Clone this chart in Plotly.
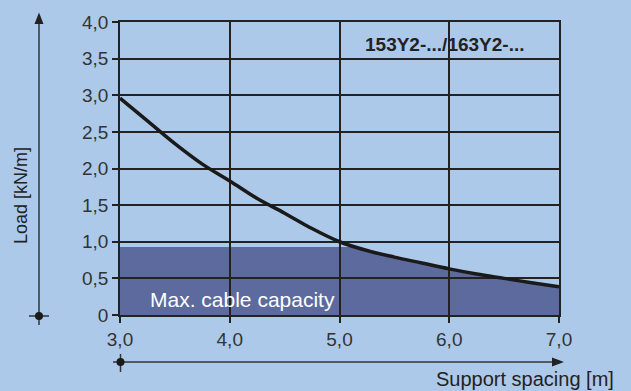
import plotly.graph_objects as go

# daten
spacing = [3.0, 3.25, 3.5, 3.75, 4.0, 4.25, 4.5, 4.75, 5.0, 5.25, 5.5, 5.75, 6.0, 6.25, 6.5, 6.75, 7.0]
load = [2.96, 2.65, 2.34, 2.06, 1.83, 1.59, 1.39, 1.18, 1.0, 0.88, 0.79, 0.71, 0.63, 0.56, 0.5, 0.44, 0.385]
cable_capacity = 0.93

x_ticks = [3, 4, 5, 6, 7]
x_labels = ["3,0", "4,0", "5,0", "6,0", "7,0"]
y_ticks = [0, 0.5, 1, 1.5, 2, 2.5, 3, 3.5, 4]
y_labels = ["0", "0,5", "1,0", "1,5", "2,0", "2,5", "3,0", "3,5", "4,0"]

bg = "#adc9ea"
fill_col = "#5c6a9e"
dark = "#222222"
W, H = 631, 391
L, R, T, B = 120, 72, 22, 76
pw, ph = W - L - R, H - T - B


def px(v):
    return (v - L) / pw


def py(v):
    return (H - B - v) / ph


# flaeche: min(kapazitaet, kurve)
cap_x = [spacing[0]]
cap_y = [cable_capacity]
for i in range(1, len(spacing)):
    x0, x1 = spacing[i - 1], spacing[i]
    y0, y1 = load[i - 1], load[i]
    if (y0 - cable_capacity) * (y1 - cable_capacity) < 0:
        xc = x0 + (cable_capacity - y0) * (x1 - x0) / (y1 - y0)
        cap_x.append(xc)
        cap_y.append(cable_capacity)
    cap_x.append(x1)
    cap_y.append(min(y1, cable_capacity))

path = "M %f,0 " % cap_x[0] + " ".join("L %f,%f" % (a, b) for a, b in zip(cap_x, cap_y)) + " L %f,0 Z" % cap_x[-1]

fig = go.Figure()
fig.add_trace(go.Scatter(x=spacing, y=load, mode="lines", line=dict(color="#1a1a1a", width=3.5, shape="spline"),
                         showlegend=False, hoverinfo="skip"))

shapes = [
    dict(type="path", path=path, xref="x", yref="y", fillcolor=fill_col, line=dict(width=0), layer="below"),
    # y-pfeil
    dict(type="line", xref="paper", yref="paper", x0=px(39), x1=px(39), y0=py(325), y1=py(22),
         line=dict(color="#333333", width=1.5)),
    dict(type="path", xref="paper", yref="paper",
         path="M %f,%f L %f,%f L %f,%f Z" % (px(39), py(12.5), px(34.5), py(24), px(43.5), py(24)),
         fillcolor="#222222", line=dict(width=0)),
    dict(type="line", xref="paper", yref="paper", x0=px(29), x1=px(49), y0=py(316), y1=py(316),
         line=dict(color="#333333", width=1.5)),
    dict(type="circle", xref="paper", yref="paper", x0=px(35), x1=px(43), y0=py(312), y1=py(320),
         fillcolor="#1a1a1a", line=dict(width=0)),
    # x-pfeil
    dict(type="line", xref="paper", yref="paper", x0=px(113), x1=px(553), y0=py(362), y1=py(362),
         line=dict(color="#333333", width=1.5)),
    dict(type="path", xref="paper", yref="paper",
         path="M %f,%f L %f,%f L %f,%f Z" % (px(564), py(362), px(552), py(357.5), px(552), py(366.5)),
         fillcolor="#222222", line=dict(width=0)),
    dict(type="line", xref="paper", yref="paper", x0=px(120.5), x1=px(120.5), y0=py(354), y1=py(372),
         line=dict(color="#333333", width=1.5)),
    dict(type="circle", xref="paper", yref="paper", x0=px(116.5), x1=px(124.5), y0=py(358), y1=py(366),
         fillcolor="#1a1a1a", line=dict(width=0)),
]

annotations = [
    dict(text="Load [kN/m]", xref="paper", yref="paper", x=px(21), y=py(196), textangle=-90,
         showarrow=False, xanchor="center", yanchor="middle", font=dict(size=18, color="#222222")),
    dict(text="Support spacing [m]", xref="paper", yref="paper", x=px(616), y=py(379),
         showarrow=False, xanchor="right", yanchor="middle", font=dict(size=20, color="#222222")),
    dict(text="<b>153Y2-.../163Y2-...</b>", xref="paper", yref="paper", x=px(445), y=py(44),
         showarrow=False, xanchor="center", yanchor="middle", font=dict(size=19, color="#222222")),
    dict(text="Max. cable capacity", xref="paper", yref="paper", x=px(148), y=py(299),
         showarrow=False, xanchor="left", yanchor="middle", font=dict(size=21, color="white")),
]

fig.update_layout(
    width=W, height=H,
    margin=dict(l=L, r=R, t=T, b=B),
    paper_bgcolor=bg, plot_bgcolor=bg,
    font=dict(family="Liberation Sans, Arial, sans-serif", color="#333333"),
    shapes=shapes, annotations=annotations,
    xaxis=dict(range=[3, 7], tickvals=x_ticks, ticktext=x_labels, showgrid=True, gridcolor=dark, gridwidth=1.5,
               showline=True, linecolor=dark, linewidth=1.5, mirror=True, ticks="outside", ticklen=6,
               tickwidth=1.5, tickcolor=dark, tickfont=dict(size=19, color="#333333"), zeroline=False,
               fixedrange=True),
    yaxis=dict(range=[0, 4], tickvals=y_ticks, ticktext=y_labels, showgrid=True, gridcolor=dark, gridwidth=1.5,
               showline=True, linecolor=dark, linewidth=1.5, mirror=True, ticks="outside", ticklen=6,
               tickwidth=1.5, tickcolor=dark, tickfont=dict(size=19, color="#333333"), zeroline=False,
               fixedrange=True),
)

fig.write_html("out.html", config={"displayModeBar": False},
               post_script="document.body.style.margin='0';document.body.style.overflow='hidden';")
